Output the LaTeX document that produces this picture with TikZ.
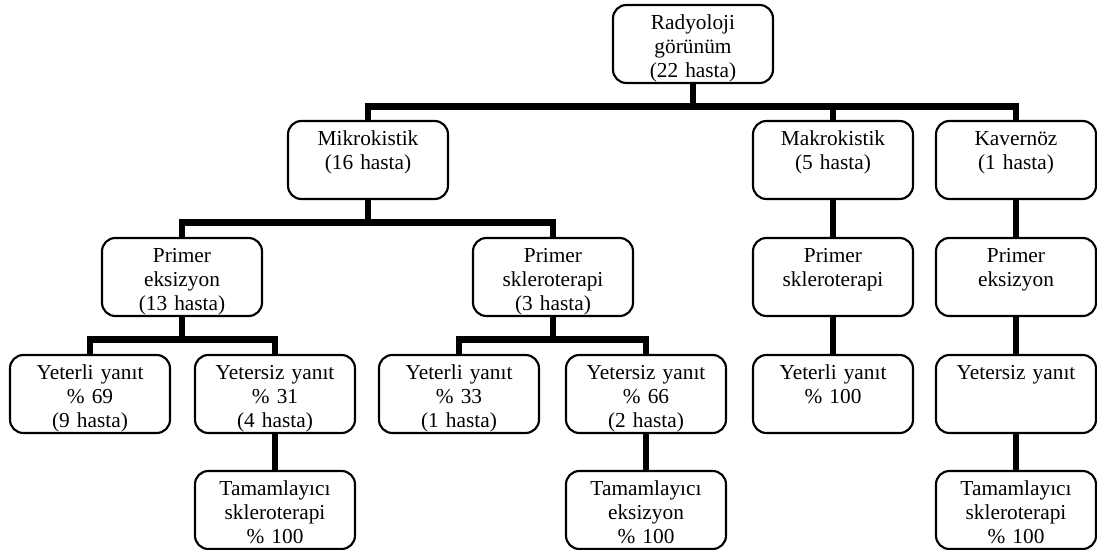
\documentclass[tikz,border=0pt]{standalone}
\usepackage{fontspec}
\setmainfont{Liberation Serif}
\begin{document}
\begin{tikzpicture}[x=0.75pt,y=-0.75pt,
    kutu/.style={draw, line width=1.6pt, rounded corners=10pt, fill=white,
        text width=120pt, align=center, inner xsep=0pt, inner ysep=0pt,
        text height=18pt, text depth=40.5pt, font=\fontsize{16}{18}\selectfont},
    bag/.style={line width=5pt}]
    \useasboundingbox (0,0) rectangle (1097,550);

    % kutular
    \node[kutu] (kok) at (693,44) {Radyoloji\\görünüm\\(22 hasta)};

    \node[kutu] (mikro) at (368,160) {Mikrokistik\\(16 hasta)};
    \node[kutu] (makro) at (833,160) {Makrokistik\\(5 hasta)};
    \node[kutu] (kav) at (1016,160) {Kavernöz\\(1 hasta)};

    \node[kutu] (peks) at (182,277) {Primer\\eksizyon\\(13 hasta)};
    \node[kutu] (pskl) at (553,277) {Primer\\skleroterapi\\(3 hasta)};
    \node[kutu] (mskl) at (833,277) {Primer\\skleroterapi};
    \node[kutu] (keks) at (1016,277) {Primer\\eksizyon};

    \node[kutu] (y69) at (90,394) {Yeterli yanıt\\\% 69\\(9 hasta)};
    \node[kutu] (y31) at (275,394) {Yetersiz yanıt\\\% 31\\(4 hasta)};
    \node[kutu] (y33) at (459,394) {Yeterli yanıt\\\% 33\\(1 hasta)};
    \node[kutu] (y66) at (646,394) {Yetersiz yanıt\\\% 66\\(2 hasta)};
    \node[kutu] (y100) at (833,394) {Yeterli yanıt\\\% 100};
    \node[kutu] (kyet) at (1016,394) {Yetersiz yanıt};

    \node[kutu] (tskl) at (275,510) {Tamamlayıcı\\skleroterapi\\\% 100};
    \node[kutu] (teks) at (646,510) {Tamamlayıcı\\eksizyon\\\% 100};
    \node[kutu] (ktskl) at (1016,510) {Tamamlayıcı\\skleroterapi\\\% 100};

    % baglantilar
    \foreach \ust/\alt in {kok/mikro, kok/makro, kok/kav, mikro/peks, mikro/pskl,
        peks/y69, peks/y31, pskl/y33, pskl/y66}
        \draw[bag] (\ust.south) -- ++(0,22.5) -| (\alt.north);
    \foreach \ust/\alt in {makro/mskl, kav/keks, mskl/y100, keks/kyet,
        y31/tskl, y66/teks, kyet/ktskl}
        \draw[bag] (\ust.south) -- (\alt.north);
\end{tikzpicture}
\end{document}
